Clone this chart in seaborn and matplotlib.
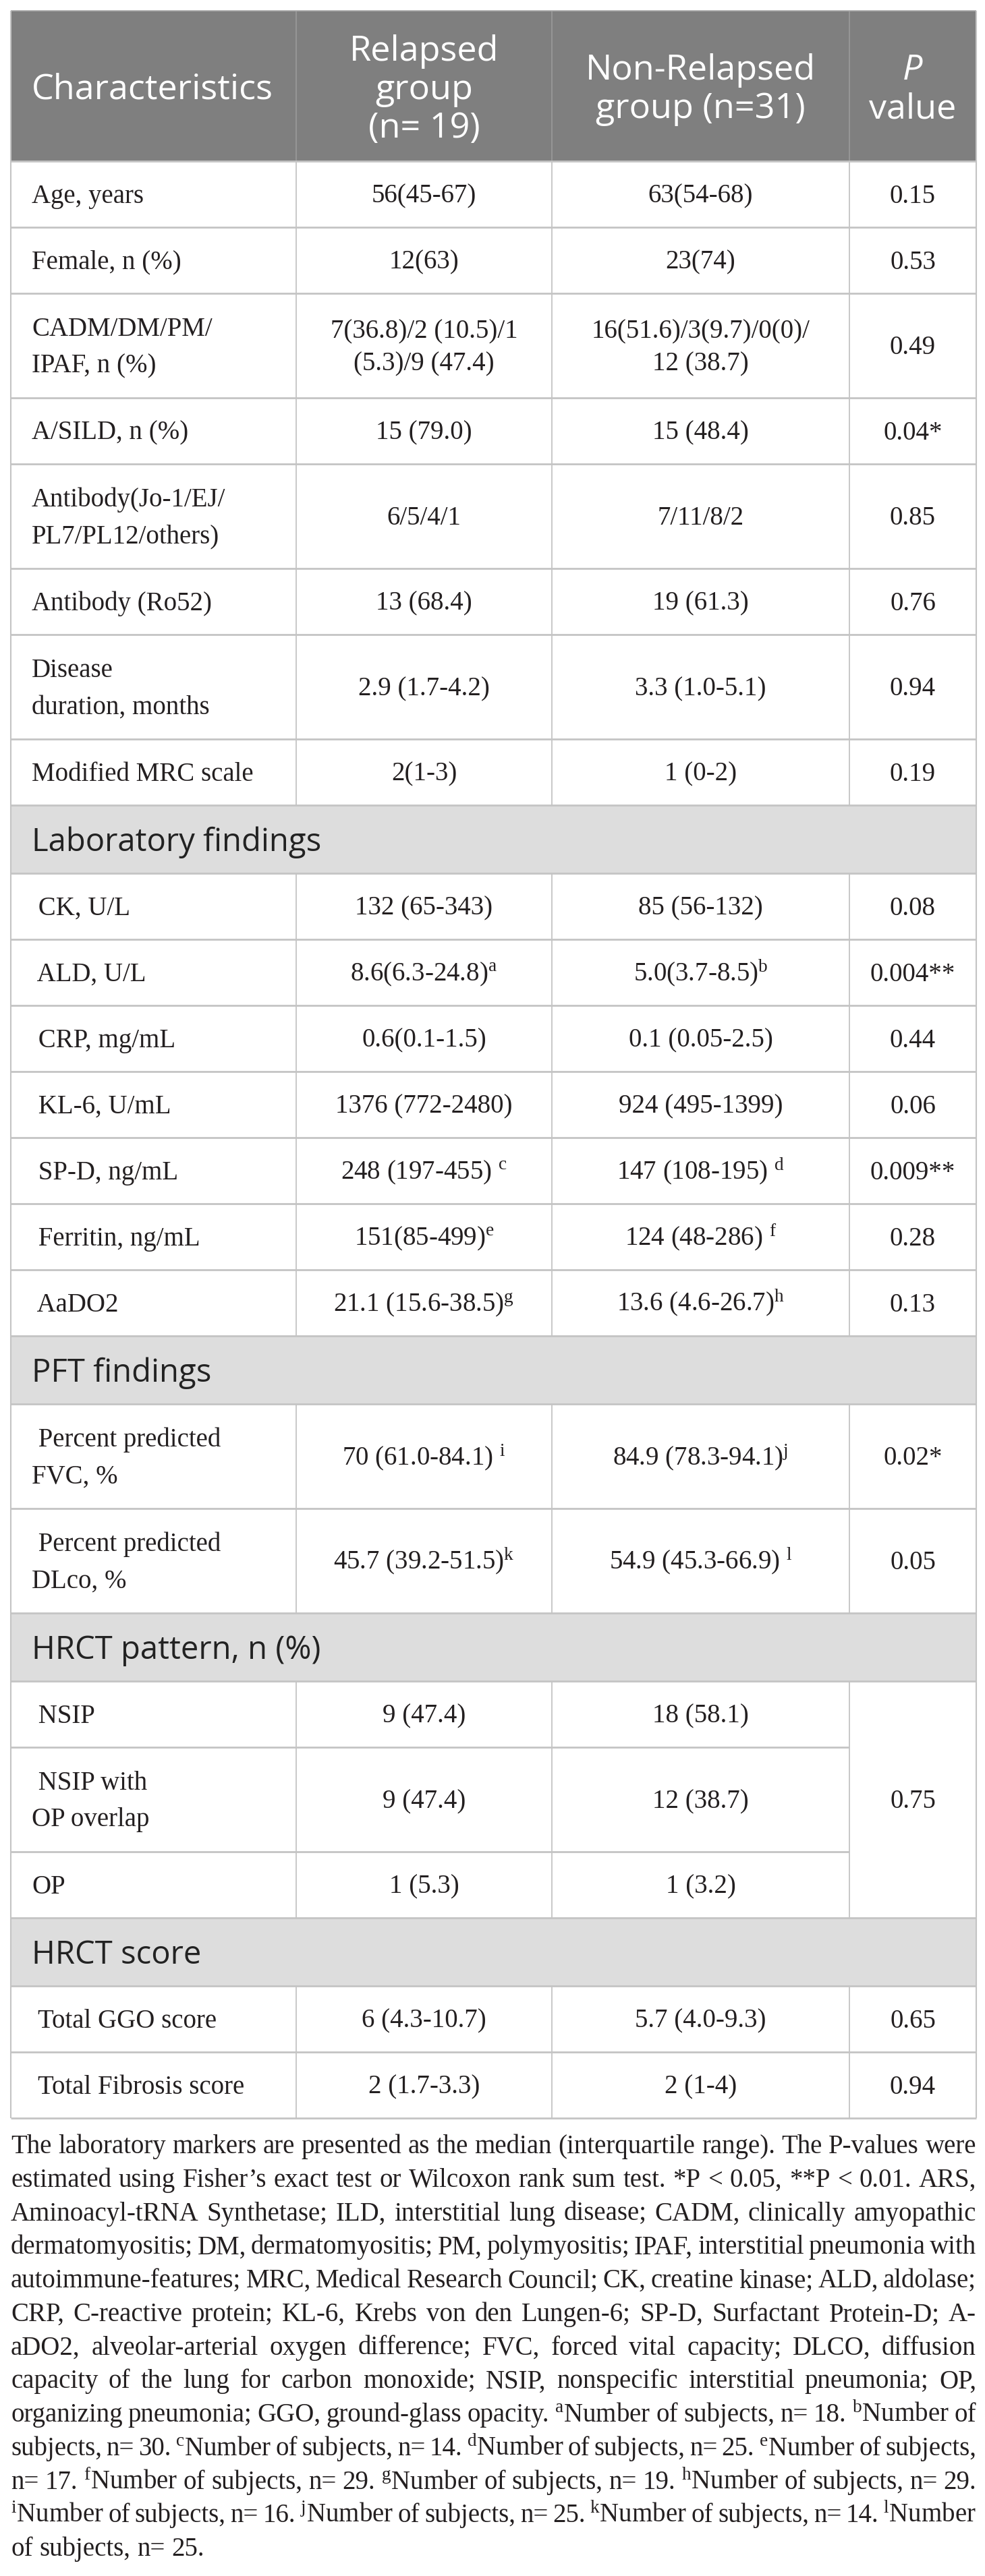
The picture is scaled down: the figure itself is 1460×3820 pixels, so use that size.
import matplotlib
matplotlib.use("Agg")
import matplotlib.pyplot as plt
from matplotlib.patches import Rectangle
import seaborn as sns
import pandas as pd

# Table content
characteristics = [
    "Age, years", "Female, n (%)", "CADM/DM/PM/\nIPAF, n (%)", "A/SILD, n (%)",
    "Antibody(Jo-1/EJ/\nPL7/PL12/others)", "Antibody (Ro52)", "Disease\nduration, months",
    "Modified MRC scale",
    "Laboratory findings",
    " CK, U/L", " ALD, U/L", " CRP, mg/mL", " KL-6, U/mL", " SP-D, ng/mL",
    " Ferritin, ng/mL", " AaDO2",
    "PFT findings",
    " Percent predicted\nFVC, %", " Percent predicted\nDLco, %",
    "HRCT pattern, n (%)",
    " NSIP", " NSIP with\nOP overlap", "OP",
    "HRCT score",
    " Total GGO score", " Total Fibrosis score",
]
relapsed = [
    "56(45-67)", "12(63)", "7(36.8)/2 (10.5)/1\n(5.3)/9 (47.4)", "15 (79.0)",
    "6/5/4/1", "13 (68.4)", "2.9 (1.7-4.2)", "2(1-3)",
    "",
    "132 (65-343)", r"8.6(6.3-24.8)$^{\mathrm{a}}$", "0.6(0.1-1.5)", "1376 (772-2480)",
    r"248 (197-455) $^{\mathrm{c}}$", r"151(85-499)$^{\mathrm{e}}$", r"21.1 (15.6-38.5)$^{\mathrm{g}}$",
    "",
    r"70 (61.0-84.1) $^{\mathrm{i}}$", r"45.7 (39.2-51.5)$^{\mathrm{k}}$",
    "",
    "9 (47.4)", "9 (47.4)", "1 (5.3)",
    "",
    "6 (4.3-10.7)", "2 (1.7-3.3)",
]
non_relapsed = [
    "63(54-68)", "23(74)", "16(51.6)/3(9.7)/0(0)/\n12 (38.7)", "15 (48.4)",
    "7/11/8/2", "19 (61.3)", "3.3 (1.0-5.1)", "1 (0-2)",
    "",
    "85 (56-132)", r"5.0(3.7-8.5)$^{\mathrm{b}}$", "0.1 (0.05-2.5)", "924 (495-1399)",
    r"147 (108-195) $^{\mathrm{d}}$", r"124 (48-286) $^{\mathrm{f}}$", r"13.6 (4.6-26.7)$^{\mathrm{h}}$",
    "",
    r"84.9 (78.3-94.1)$^{\mathrm{j}}$", r"54.9 (45.3-66.9) $^{\mathrm{l}}$",
    "",
    "18 (58.1)", "12 (38.7)", "1 (3.2)",
    "",
    "5.7 (4.0-9.3)", "2 (1-4)",
]
# None = merged with the p value cell above
p_values = [
    "0.15", "0.53", "0.49", "0.04*", "0.85", "0.76", "0.94", "0.19",
    "",
    "0.08", "0.004**", "0.44", "0.06", "0.009**", "0.28", "0.13",
    "",
    "0.02*", "0.05",
    "",
    "0.75", None, None,
    "",
    "0.65", "0.94",
]
row_kind = ["data"] * 8 + ["section"] + ["data"] * 7 + ["section"] + ["data"] * 2 + \
           ["section"] + ["data"] * 3 + ["section"] + ["data"] * 2

header_cols = [["Characteristics"], ["Relapsed", "group", "(n= 19)"],
               ["Non-Relapsed", "group (n=31)"], ["P", "value"]]

footnote = [
    "The laboratory markers are presented as the median (interquartile range). The P-values were",
    "estimated using Fisher\u2019s exact test or Wilcoxon rank sum test. *P < 0.05, **P < 0.01. ARS,",
    "Aminoacyl-tRNA Synthetase; ILD, interstitial lung disease; CADM, clinically amyopathic",
    "dermatomyositis; DM, dermatomyositis; PM, polymyositis; IPAF, interstitial pneumonia with",
    "autoimmune-features; MRC, Medical Research Council; CK, creatine kinase; ALD, aldolase;",
    "CRP, C-reactive protein; KL-6, Krebs von den Lungen-6; SP-D, Surfactant Protein-D; A-",
    "aDO2, alveolar-arterial oxygen difference; FVC, forced vital capacity; DLCO, diffusion",
    "capacity of the lung for carbon monoxide; NSIP, nonspecific interstitial pneumonia; OP,",
    r"organizing pneumonia; GGO, ground-glass opacity. $^{\mathrm{a}}$Number of subjects, n= 18. $^{\mathrm{b}}$Number of",
    r"subjects, n= 30. $^{\mathrm{c}}$Number of subjects, n= 14. $^{\mathrm{d}}$Number of subjects, n= 25. $^{\mathrm{e}}$Number of subjects,",
    r"n= 17. $^{\mathrm{f}}$Number of subjects, n= 29. $^{\mathrm{g}}$Number of subjects, n= 19. $^{\mathrm{h}}$Number of subjects, n= 29.",
    r"$^{\mathrm{i}}$Number of subjects, n= 16. $^{\mathrm{j}}$Number of subjects, n= 25. $^{\mathrm{k}}$Number of subjects, n= 14. $^{\mathrm{l}}$Number",
    "of subjects, n= 25.",
]

df = pd.DataFrame({"label": characteristics, "relapsed": relapsed,
                   "non_relapsed": non_relapsed, "p": p_values, "kind": row_kind})

# Style
sns.set_theme(style="white")
plt.rcParams['font.family'] = ['Liberation Serif', 'DejaVu Serif']
plt.rcParams['mathtext.fontset'] = 'custom'
plt.rcParams['mathtext.rm'] = 'Liberation Serif'
plt.rcParams['mathtext.it'] = 'Liberation Serif:italic'
plt.rcParams['mathtext.bf'] = 'Liberation Serif:bold'

W, H, DPI = 1460, 3820, 100
PX = DPI / 72.0
TEXT = "#231f20"
LINE = "#c4c4c4"
HEAD_BG = "#7f7f7f"
SEC_BG = "#dddddd"
BODY_FS = 28
HEAD_FS = 37.5
SEC_FS = 34
SANS = ['Open Sans', 'DejaVu Sans']

edges = [16, 439, 818, 1259, 1447]
centers = [(edges[i] + edges[i + 1]) / 2 for i in range(4)]
top, head_bottom = 16, 239

fig = plt.figure(figsize=(W / DPI, H / DPI), dpi=DPI)
ax = fig.add_axes([0, 0, 1, 1])
ax.set_xlim(0, W)
ax.set_ylim(H, 0)
ax.axis('off')


def put(x, ymid, s, ha='center', fs=BODY_FS, family=None, color=TEXT, style='normal', cap=0.33):
    # place text by the middle of its capitals
    kw = dict(ha=ha, va='baseline', fontsize=fs, color=color, fontstyle=style)
    if family is not None:
        kw['family'] = family
    return ax.text(x, ymid + cap * fs * PX, s, **kw)


def put_lines(x, ymid, s, spacing, ha='center'):
    lines = s.split("\n")
    n = len(lines)
    for k, ln in enumerate(lines):
        put(x, ymid + (k - (n - 1) / 2) * spacing, ln, ha=ha)


# header
ax.add_patch(Rectangle((edges[0], top), edges[-1] - edges[0], head_bottom - top,
                       facecolor=HEAD_BG, edgecolor='none', zorder=0))
ax.vlines(edges[1:-1], top, head_bottom, color="#9a9a9a", lw=1.2, zorder=2)
hmid = 128
for ci, lines in enumerate(header_cols):
    n = len(lines)
    for k, ln in enumerate(lines):
        y = hmid + (k - (n - 1) / 2) * 57
        if ci == 0:
            put(47, y, ln, ha='left', fs=HEAD_FS, family=SANS, color='white', cap=0.36)
        else:
            st = 'italic' if (ci == 3 and k == 0) else 'normal'
            put(centers[ci], y, ln, fs=HEAD_FS, family=SANS, color='white', style=st, cap=0.36)

# row heights from content
heights = []
for _, r in df.iterrows():
    if r.kind == "section":
        heights.append(101)
    else:
        nl = max(str(v).count("\n") + 1 for v in [r.label, r.relapsed, r.non_relapsed])
        heights.append(98 if nl == 1 else 155)

y = head_bottom
row_tops = []
for h in heights:
    row_tops.append(y)
    y += h
table_bottom = y

for i, r in df.iterrows():
    y0 = row_tops[i]
    h = heights[i]
    y1 = y0 + h
    mid = (y0 + y1) / 2
    if r.kind == "section":
        ax.add_patch(Rectangle((edges[0], y0), edges[-1] - edges[0], h,
                               facecolor=SEC_BG, edgecolor='none', zorder=0))
        put(47, mid, r.label, ha='left', fs=SEC_FS, family=SANS, color="#222222", cap=0.36)
        continue
    ax.vlines(edges[1:-1], y0, y1, color=LINE, lw=1.3, zorder=2)
    put_lines(47, mid, r.label, 54, ha='left')
    put_lines(centers[1], mid, r.relapsed, 48)
    put_lines(centers[2], mid, r.non_relapsed, 48)
    if r.p is not None and r.p != "":
        # merged cell spans following rows with p = None
        j = i + 1
        while j < len(df) and df.p[j] is None:
            j += 1
        pbot = row_tops[j] if j < len(df) else table_bottom
        put(centers[3], (y0 + pbot) / 2, r.p)

# horizontal rules
for i in range(len(df)):
    y0 = row_tops[i]
    right = edges[3] if df.p[i] is None else edges[-1]
    ax.hlines(y0, edges[0], right, color=LINE, lw=2.0, zorder=3)
ax.hlines(table_bottom, edges[0], edges[-1], color=LINE, lw=2.0, zorder=3)
ax.hlines(top, edges[0], edges[-1], color="#a8a8a8", lw=1.2, zorder=3)
ax.vlines([edges[0], edges[-1]], top, table_bottom, color=LINE, lw=1.5, zorder=3)

# justified footnote
renderer = fig.canvas.get_renderer()
FOOT_FS = 28
left, right = 16, 1447
avail = right - left
base0 = 3193
for li, line in enumerate(footnote):
    words = line.split(" ")
    fs = FOOT_FS
    while True:
        arts = [ax.text(0, base0 + li * 49.75, w, ha='left', va='baseline',
                        fontsize=fs, color=TEXT) for w in words]
        widths = [a.get_window_extent(renderer).width for a in arts]
        total = sum(widths)
        min_gap = 0.12 * fs * PX
        if li == len(footnote) - 1 or total + (len(words) - 1) * min_gap <= avail or fs < 20:
            break
        for a in arts:
            a.remove()
        fs -= 0.25
    if li == len(footnote) - 1:
        gap = 0.25 * fs * PX
    else:
        gap = (avail - total) / (len(words) - 1)
    x = left
    for a, w in zip(arts, widths):
        a.set_x(x)
        x += w + gap

fig.savefig("out.png", dpi=DPI)
